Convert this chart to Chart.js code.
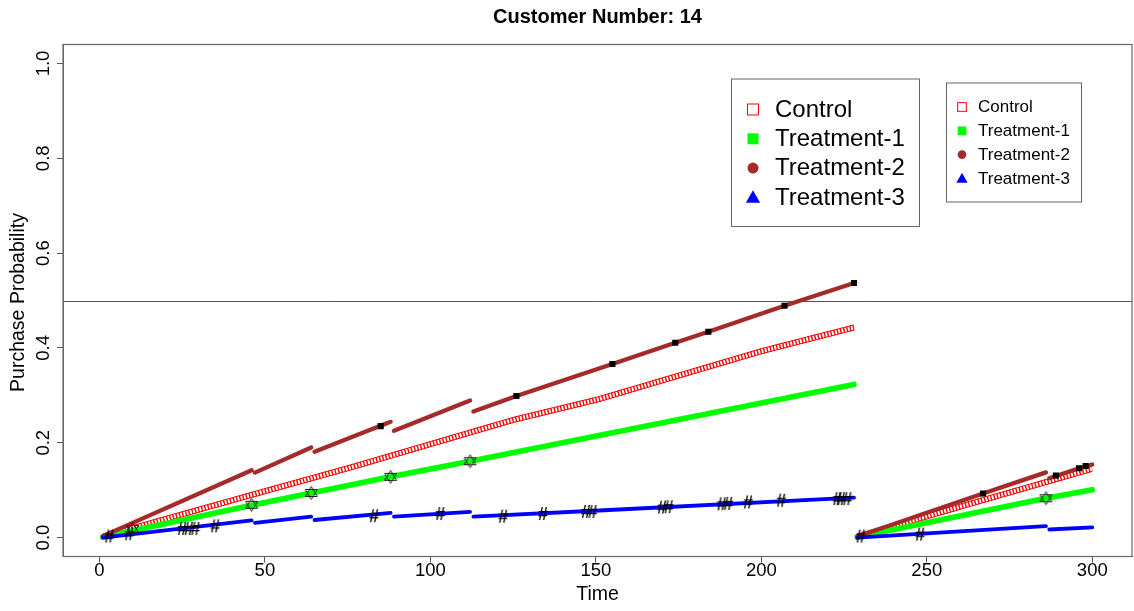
<!DOCTYPE html>
<html>
<head>
<meta charset="utf-8">
<script src="https://cdn.jsdelivr.net/npm/chart.js@4/dist/chart.umd.min.js"></script>
<style>
html, body { margin: 0; padding: 0; background: #fff; }
#wrap { width: 1134px; height: 611px; position: relative; }
</style>
</head>
<body>
<div id="wrap"><canvas id="c"></canvas></div>
<script>
// Purchase probability over time for one customer under four experimental arms.
const chartTitle = 'Customer Number: 14';
const xTitle = 'Time';
const yTitle = 'Purchase Probability';
const seriesNames = ['Control', 'Treatment-1', 'Treatment-2', 'Treatment-3'];
const xTicks = [0, 50, 100, 150, 200, 250, 300];
const xTickLabels = ['0', '50', '100', '150', '200', '250', '300'];
const yTicks = [0, 0.2, 0.4, 0.6, 0.8, 1.0];
const yTickLabels = ['0.0', '0.2', '0.4', '0.6', '0.8', '1.0'];
const threshold = 0.5;

// null entries break a series where the probability resets
const controlTime = [1, 46, 76, 125, 151, 200, 228, 228.5, 229, 267, 300];
const controlProb = [0.002, 0.090, 0.148, 0.248, 0.292, 0.393, 0.443, null, 0.002, 0.079, 0.145];

const treat1Time = [1, 46, 88, 112, 228, 228.5, 229, 286, 300];
const treat1Prob = [0.001, 0.068, 0.128, 0.161, 0.323, null, 0.001, 0.083, 0.101];

const treat2Time = [1, 46, 46.5, 47, 64, 64.5, 65, 88, 88.5, 89, 112, 112.5, 113, 126, 155, 174, 184, 207, 228, 228.5, 229, 267, 286, 286.5, 287, 296, 300];
const treat2Prob = [0.003, 0.142, null, 0.137, 0.190, null, 0.181, 0.244, null, 0.225, 0.289, null, 0.266, 0.2985, 0.366, 0.411, 0.434, 0.489, 0.537, null, 0.002, 0.093, 0.1375, null, 0.125, 0.146, 0.154];

const treat3Time = [1, 46, 46.5, 47, 64, 64.5, 65, 88, 88.5, 89, 112, 112.5, 113, 151, 228, 228.5, 229, 286, 286.5, 287, 300];
const treat3Prob = [0.000, 0.036, null, 0.031, 0.044, null, 0.037, 0.052, null, 0.044, 0.054, null, 0.044, 0.057, 0.084, null, 0.000, 0.024, null, 0.017, 0.0215];

// event markers
const squareTime = [85, 126, 155, 174, 184, 207, 228, 267, 289, 296, 298];
const squareProb = [0.235, 0.2985, 0.366, 0.411, 0.434, 0.489, 0.537, 0.093, 0.131, 0.146, 0.151];
const starTime = [10, 46, 64, 88, 112, 286];
const starProb = [0.018, 0.069, 0.094, 0.128, 0.161, 0.083];
const hashTime = [3, 9, 25, 27, 29, 35, 83, 103, 122, 134, 147, 149, 170, 172, 188, 190, 196, 206, 223, 224, 226, 230, 248];
const hashProb = [0.000, 0.005, 0.016, 0.016, 0.016, 0.0215, 0.043, 0.0475, 0.042, 0.0475, 0.052, 0.052, 0.061, 0.062, 0.068, 0.069, 0.072, 0.0755, 0.079, 0.079, 0.079, 0.000, 0.004];

const COLORS = { control: '#ff0000', t1: '#00ff00', t2: '#a52a2a', t3: '#0000ff' };
const FONT = '"Liberation Sans", Arial, Helvetica, sans-serif';
const AXIS_GREY = '#555555';

const pts = (t, p) => t.map((x, i) => ({ x: x, y: p[i] }));

function makeStar() {
  const c = document.createElement('canvas');
  c.width = 15; c.height = 16;
  const g = c.getContext('2d');
  g.strokeStyle = '#222';
  g.lineWidth = 1;
  g.beginPath();
  g.moveTo(7.5, 1.5); g.lineTo(1.5, 11.5); g.lineTo(13.5, 11.5); g.closePath();
  g.moveTo(7.5, 14.5); g.lineTo(1.5, 4.5); g.lineTo(13.5, 4.5); g.closePath();
  g.stroke();
  return c;
}

function makeHash() {
  const c = document.createElement('canvas');
  c.width = 16; c.height = 20;
  const g = c.getContext('2d');
  g.fillStyle = '#000';
  g.font = 'bold 18px ' + FONT;
  g.textAlign = 'center';
  g.textBaseline = 'middle';
  g.fillText('#', 8, 10.5);
  return c;
}

// outline edges of the open-square band for the control arm
const controlBand = {
  id: 'controlBand',
  afterDatasetDraw(chart, args) {
    if (chart.data.datasets[args.index].label !== 'Control') return;
    const { ctx, chartArea: a } = chart;
    ctx.save();
    ctx.beginPath();
    ctx.rect(a.left, a.top, a.right - a.left, a.bottom - a.top);
    ctx.clip();
    ctx.beginPath();
    for (const off of [-2.6, 2.6]) {
      let started = false;
      for (const p of args.meta.data) {
        if (p.skip) { started = false; continue; }
        if (!started) { ctx.moveTo(p.x, p.y + off); started = true; }
        else ctx.lineTo(p.x, p.y + off);
      }
    }
    ctx.strokeStyle = COLORS.control;
    ctx.lineWidth = 1;
    ctx.stroke();
    ctx.restore();
  }
};

function drawSymbol(ctx, kind, x, y, s) {
  ctx.save();
  if (kind === 'sqOpen') {
    ctx.strokeStyle = COLORS.control; ctx.lineWidth = 1;
    ctx.strokeRect(x - s / 2, y - s / 2, s, s);
  } else if (kind === 'sqFill') {
    ctx.fillStyle = COLORS.t1;
    ctx.fillRect(x - s / 2, y - s / 2, s, s);
  } else if (kind === 'circle') {
    ctx.fillStyle = COLORS.t2;
    ctx.beginPath(); ctx.arc(x, y, s / 2, 0, Math.PI * 2); ctx.fill();
  } else if (kind === 'tri') {
    const w = s * 1.3, h = s * 1.1;
    ctx.fillStyle = COLORS.t3;
    ctx.beginPath();
    ctx.moveTo(x, y - h * 0.6);
    ctx.lineTo(x - w / 2, y + h * 0.45);
    ctx.lineTo(x + w / 2, y + h * 0.45);
    ctx.closePath(); ctx.fill();
  }
  ctx.restore();
}

const legendKinds = ['sqOpen', 'sqFill', 'circle', 'tri'];
const legendBoxes = [
  { x: 731, y: 78.5, w: 188, h: 147.5, symX: 753, textX: 775, rowY: 109.5, rowGap: 29.3, sym: 11, font: 24 },
  { x: 946, y: 82.5, w: 135, h: 119, symX: 962, textX: 978, rowY: 107, rowGap: 23.8, sym: 8.7, font: 17 }
];

const frame = {
  id: 'frame',
  beforeDatasetsDraw(chart) {
    const { ctx, chartArea: a, scales: { y } } = chart;
    ctx.save();
    ctx.strokeStyle = AXIS_GREY;
    ctx.lineWidth = 1;
    const yy = Math.round(y.getPixelForValue(threshold)) + 0.5;
    ctx.beginPath();
    ctx.moveTo(a.left, yy); ctx.lineTo(a.right, yy);
    ctx.stroke();
    ctx.strokeStyle = '#666';
    ctx.lineWidth = 1.2;
    ctx.strokeRect(a.left, a.top, a.right - a.left, a.bottom - a.top);
    ctx.restore();
  },
  afterDraw(chart) {
    const { ctx, chartArea: a, scales: { x, y } } = chart;
    ctx.save();
    ctx.fillStyle = '#000';
    // title
    ctx.font = 'bold 20px ' + FONT;
    ctx.textAlign = 'center';
    ctx.textBaseline = 'alphabetic';
    ctx.fillText(chartTitle, (a.left + a.right) / 2, 23);
    // tick labels
    ctx.font = '18.5px ' + FONT;
    ctx.textBaseline = 'middle';
    xTicks.forEach((v, i) => ctx.fillText(xTickLabels[i], x.getPixelForValue(v), 570.5));
    yTicks.forEach((v, i) => {
      ctx.save();
      ctx.translate(43.5, y.getPixelForValue(v));
      ctx.rotate(-Math.PI / 2);
      ctx.fillText(yTickLabels[i], 0, 0);
      ctx.restore();
    });
    // axis titles
    ctx.font = '19.5px ' + FONT;
    ctx.fillText(xTitle, (a.left + a.right) / 2, 595);
    ctx.save();
    ctx.translate(19, (a.top + a.bottom) / 2 + 2);
    ctx.rotate(-Math.PI / 2);
    ctx.fillText(yTitle, 0, 0);
    ctx.restore();
    // legends
    for (const b of legendBoxes) {
      ctx.fillStyle = '#fff';
      ctx.fillRect(b.x, b.y, b.w, b.h);
      ctx.strokeStyle = '#666';
      ctx.lineWidth = 1;
      ctx.strokeRect(b.x + 0.5, b.y + 0.5, b.w, b.h);
      ctx.font = b.font + 'px ' + FONT;
      ctx.textAlign = 'left';
      ctx.textBaseline = 'middle';
      seriesNames.forEach((name, i) => {
        const ry = b.rowY + i * b.rowGap;
        drawSymbol(ctx, legendKinds[i], b.symX, ry, b.sym);
        ctx.fillStyle = '#000';
        ctx.fillText(name, b.textX, ry + 0.5);
      });
    }
    ctx.restore();
  }
};

const starImg = makeStar();
const hashImg = makeHash();

const baseLine = { pointRadius: 0, pointHoverRadius: 0, tension: 0, spanGaps: false };

new Chart(document.getElementById('c'), {
  type: 'line',
  data: {
    datasets: [
      Object.assign({ label: 'Control', data: pts(controlTime, controlProb), borderColor: COLORS.control,
        borderWidth: 5.5, borderDash: [1.4, 1.9], borderCapStyle: 'butt', order: 5 }, baseLine),
      Object.assign({ label: 'Treatment-1', data: pts(treat1Time, treat1Prob), borderColor: COLORS.t1,
        borderWidth: 5.6, borderJoinStyle: 'round', borderCapStyle: 'round', order: 4 }, baseLine),
      Object.assign({ label: 'Treatment-2', data: pts(treat2Time, treat2Prob), borderColor: COLORS.t2,
        borderWidth: 4.3, borderJoinStyle: 'round', borderCapStyle: 'round', order: 3 }, baseLine),
      Object.assign({ label: 'Treatment-3', data: pts(treat3Time, treat3Prob), borderColor: COLORS.t3,
        borderWidth: 3.8, borderJoinStyle: 'round', borderCapStyle: 'round', order: 2 }, baseLine),
      { label: 'stars', data: pts(starTime, starProb), showLine: false, pointStyle: starImg,
        pointRadius: 6, order: 1 },
      { label: 'hash', data: pts(hashTime, hashProb), showLine: false, pointStyle: hashImg,
        pointRadius: 6, order: 1 },
      { label: 'squares', data: pts(squareTime, squareProb), showLine: false, pointStyle: 'rect',
        pointRadius: 4.3, backgroundColor: '#000', borderColor: '#000', borderWidth: 0, order: 0 }
    ]
  },
  options: {
    responsive: true,
    maintainAspectRatio: false,
    animation: false,
    devicePixelRatio: 1,
    events: [],
    layout: { autoPadding: false, padding: { top: 44.5, right: 2, bottom: 0, left: 0 } },
    plugins: { legend: { display: false }, tooltip: { enabled: false }, title: { display: false } },
    scales: {
      x: {
        type: 'linear', min: -11, max: 312,
        afterBuildTicks: s => { s.ticks = xTicks.map(v => ({ value: v })); },
        afterFit: s => { s.height = 54.5; },
        ticks: { display: false },
        grid: { drawOnChartArea: false, drawTicks: true, tickLength: 6, tickColor: AXIS_GREY, lineWidth: 1 },
        border: { display: true, color: '#666', width: 1 }
      },
      y: {
        type: 'linear', min: -0.04, max: 1.04,
        afterBuildTicks: s => { s.ticks = yTicks.map(v => ({ value: v })); },
        afterFit: s => { s.width = 63; },
        ticks: { display: false },
        grid: { drawOnChartArea: false, drawTicks: true, tickLength: 6, tickColor: AXIS_GREY, lineWidth: 1 },
        border: { display: true, color: '#666', width: 1 }
      }
    }
  },
  plugins: [frame, controlBand]
});
</script>
</body>
</html>
